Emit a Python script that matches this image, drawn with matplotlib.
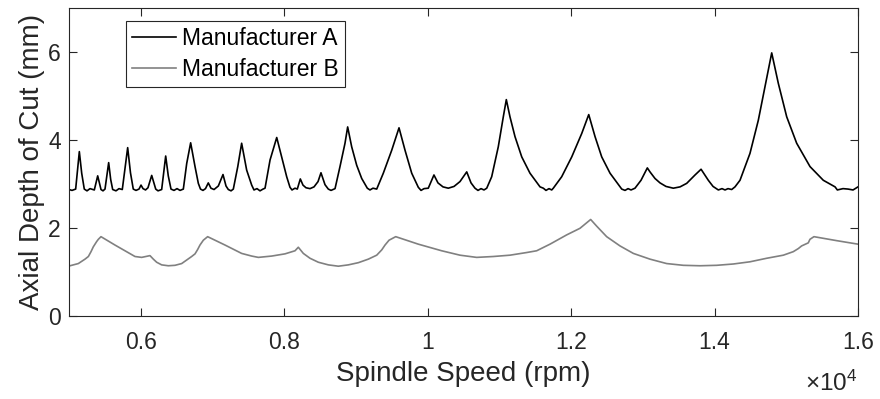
import matplotlib
matplotlib.use("Agg")
import matplotlib.pyplot as plt

plt.rcParams['font.family'] = ['Liberation Sans', 'DejaVu Sans']

# Manufacturer A stability limit (rpm, mm)
speed_a = [5000, 5042, 5093, 5144, 5177, 5213, 5251, 5293, 5353, 5400, 5446, 5474, 5502, 5553, 5581,
           5609, 5655, 5697, 5743, 5818, 5857, 5896, 5934, 5976, 6004, 6032, 6067, 6101, 6153, 6209,
           6241, 6292, 6348, 6384, 6422, 6464, 6506, 6548, 6594, 6641, 6696, 6757, 6803, 6833, 6868,
           6903, 6942, 6979, 7022, 7082, 7147, 7189, 7221, 7259, 7291, 7353, 7407, 7477, 7547, 7579,
           7621, 7663, 7705, 7733, 7803, 7896, 7965, 8035, 8081, 8109, 8151, 8183, 8225, 8262, 8304,
           8360, 8416, 8472, 8513, 8569, 8615, 8653, 8709, 8778, 8848, 8885, 8941, 9011, 9081, 9159,
           9196, 9238, 9290, 9382, 9499, 9601, 9685, 9778, 9870, 9908, 9950, 10009, 10088, 10144, 10214,
           10288, 10368, 10451, 10545, 10605, 10660, 10702, 10744, 10786, 10824, 10893, 10985, 11055, 11097, 11148,
           11218, 11312, 11427, 11567, 11613, 11650, 11692, 11730, 11752, 11869, 12009, 12148, 12246, 12334, 12427,
           12543, 12683, 12706, 12752, 12794, 12836, 12891, 12975, 13063, 13100, 13170, 13240, 13323, 13425, 13519,
           13612, 13728, 13812, 13913, 13979, 14053, 14104, 14146, 14188, 14239, 14285, 14355, 14494, 14610, 14703,
           14797, 14889, 15006, 15145, 15331, 15516, 15680, 15712, 15791, 15861, 15931, 16000]
depth_a = [2.87, 2.85, 2.88, 3.73, 3.24, 2.88, 2.84, 2.89, 2.86, 3.18, 2.87, 2.84, 2.88, 3.48, 3.10,
           2.87, 2.84, 2.89, 2.87, 3.82, 3.25, 2.88, 2.85, 2.88, 2.97, 2.89, 2.86, 2.91, 3.19, 2.88,
           2.84, 2.87, 3.63, 3.18, 2.88, 2.85, 2.89, 2.85, 2.88, 3.46, 3.93, 3.39, 3.01, 2.88, 2.85,
           2.89, 3.02, 2.90, 2.87, 2.95, 3.21, 2.95, 2.87, 2.84, 2.88, 3.39, 3.92, 3.31, 2.97, 2.86,
           2.89, 2.84, 2.88, 2.90, 3.54, 4.05, 3.61, 3.16, 2.92, 2.86, 2.90, 2.88, 3.11, 2.97, 2.91,
           2.89, 2.93, 3.05, 3.25, 2.98, 2.88, 2.85, 2.89, 3.39, 3.92, 4.29, 3.84, 3.42, 3.12, 2.90,
           2.86, 2.90, 2.88, 3.24, 3.76, 4.27, 3.76, 3.24, 2.92, 2.85, 2.89, 2.90, 3.20, 3.02, 2.93,
           2.90, 2.94, 3.05, 3.27, 3.02, 2.90, 2.85, 2.89, 2.86, 2.90, 3.16, 3.84, 4.52, 4.91, 4.52,
           4.07, 3.61, 3.24, 2.93, 2.90, 2.85, 2.89, 2.86, 2.90, 3.16, 3.61, 4.14, 4.57, 4.07, 3.61,
           3.24, 2.93, 2.88, 2.85, 2.89, 2.86, 2.90, 3.08, 3.36, 3.27, 3.12, 3.02, 2.94, 2.90, 2.93,
           3.01, 3.20, 3.33, 3.08, 2.94, 2.86, 2.89, 2.86, 2.89, 2.87, 2.93, 3.08, 3.69, 4.44, 5.20,
           5.97, 5.28, 4.52, 3.92, 3.39, 3.08, 2.93, 2.86, 2.89, 2.88, 2.86, 2.93]

# Manufacturer B stability limit (rpm, mm)
speed_b = [5014, 5130, 5223, 5270, 5307, 5339, 5386, 5409, 5446, 5641, 5920, 6013, 6129, 6176, 6222,
           6292, 6385, 6478, 6571, 6710, 6757, 6794, 6826, 6873, 6933, 7175, 7407, 7547, 7640, 7826,
           8011, 8151, 8197, 8267, 8360, 8476, 8616, 8755, 8894, 9034, 9173, 9290, 9360, 9406, 9462,
           9555, 9870, 10196, 10451, 10683, 10916, 11148, 11380, 11520, 11706, 11938, 12124, 12273, 12356, 12496,
           12682, 12868, 13100, 13332, 13565, 13797, 14029, 14262, 14494, 14727, 14959, 15098, 15168, 15214, 15307,
           15330, 15386, 15702, 16000]
depth_b = [1.14, 1.19, 1.29, 1.35, 1.46, 1.57, 1.69, 1.74, 1.80, 1.61, 1.35, 1.33, 1.37, 1.29, 1.22,
           1.16, 1.14, 1.15, 1.19, 1.35, 1.41, 1.51, 1.61, 1.72, 1.80, 1.61, 1.42, 1.36, 1.33, 1.36,
           1.41, 1.48, 1.56, 1.42, 1.31, 1.22, 1.16, 1.13, 1.16, 1.21, 1.29, 1.38, 1.50, 1.61, 1.72,
           1.80, 1.63, 1.48, 1.38, 1.33, 1.35, 1.38, 1.44, 1.48, 1.63, 1.84, 1.99, 2.19, 2.04, 1.80,
           1.59, 1.42, 1.29, 1.19, 1.15, 1.14, 1.15, 1.18, 1.23, 1.31, 1.38, 1.46, 1.53, 1.59, 1.66,
           1.74, 1.80, 1.71, 1.63]

xticks = [6000, 8000, 10000, 12000, 14000, 16000]
xtick_labels = ['0.6', '0.8', '1', '1.2', '1.4', '1.6']
yticks = [0, 2, 4, 6]
labels = ['Manufacturer A', 'Manufacturer B']

axcol = '#262626'

fig = plt.figure(figsize=(8.8, 3.99), dpi=100)
ax = fig.add_axes([69 / 880, 83 / 399, 789 / 880, 308.5 / 399])

ax.plot(speed_a, depth_a, color='black', lw=1.2, label=labels[0])
ax.plot(speed_b, depth_b, color='#808080', lw=1.2, label=labels[1])

ax.set_xlim(5000, 16000)
ax.set_ylim(0, 7)
ax.set_xticks(xticks)
ax.set_xticklabels(xtick_labels)
ax.set_yticks(yticks)

ax.tick_params(direction='in', length=5.8, width=0.8, colors=axcol, labelsize=16.5,
               top=True, right=True)
ax.tick_params(axis='x', pad=10.5)
ax.tick_params(axis='y', pad=6)
for s in ax.spines.values():
    s.set_color(axcol)
    s.set_linewidth(0.8)

ax.set_xlabel('Spindle Speed (rpm)', fontsize=20, color=axcol)
ax.set_ylabel('Axial Depth of Cut (mm)', fontsize=20, color=axcol)
ax.xaxis.set_label_coords(0.5, -0.147)
ax.yaxis.set_label_coords(-0.030, 0.5)

fig.text(857 / 880, 1 - 391 / 399, '×$\\mathregular{10^4}$', ha='right', va='baseline',
         fontsize=17.5, color=axcol)

leg = ax.legend(loc='upper left', bbox_to_anchor=(0.0722, 0.956), borderaxespad=0,
                fontsize=16.5, fancybox=False, framealpha=1, edgecolor=axcol,
                borderpad=0.28, labelspacing=0.31, handlelength=1.92, handletextpad=0.25)
leg.get_frame().set_linewidth(0.8)

fig.savefig('out.png', dpi=100)
